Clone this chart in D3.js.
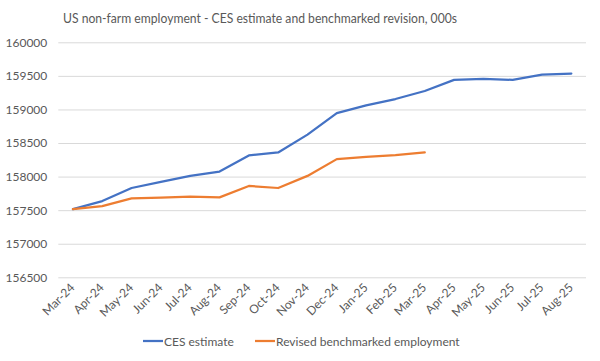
<!DOCTYPE html>
<html><head><meta charset="utf-8">
<script src="https://cdn.jsdelivr.net/npm/d3@7"></script>
<style>body{margin:0;background:#fff;} svg{display:block;font-family:Lato,"Open Sans",sans-serif;}</style>
</head><body>
<svg id="c" width="600" height="361"></svg>
<script>
const months = ["Mar-24","Apr-24","May-24","Jun-24","Jul-24","Aug-24","Sep-24","Oct-24","Nov-24","Dec-24","Jan-25","Feb-25","Mar-25","Apr-25","May-25","Jun-25","Jul-25","Aug-25"];
const cesEstimate = [157515,157635,157830,157920,158010,158075,158315,158360,158625,158945,159060,159155,159275,159440,159455,159440,159520,159535];
const revisedBenchmark = [157515,157560,157675,157685,157700,157690,157860,157830,158010,158260,158295,158320,158360];
const yTicks = [156500,157000,157500,158000,158500,159000,159500,160000];
const seriesNames = ["CES estimate","Revised benchmarked employment"];
const colors = ["#4472C4","#ED7D31"];

const svg = d3.select("#c");
const x = d3.scalePoint().domain(months).range([58.3,586]).padding(0.5);
const y = d3.scaleLinear().domain([156500,160000]).range([277.3,42.3]);

svg.append("text").attr("x",260).attr("y",23).attr("text-anchor","middle")
  .attr("font-size",13.2).attr("fill","#595959")
  .attr("textLength",394).attr("lengthAdjust","spacingAndGlyphs")
  .text("US non-farm employment - CES estimate and benchmarked revision, 000s");

const yAxis = d3.axisLeft(y).tickValues(yTicks).tickSize(-(586-58.3)).tickPadding(11).tickFormat(d3.format("d"));
const gy = svg.append("g").attr("transform","translate(58.3,0)").call(yAxis);
gy.select(".domain").remove();
gy.selectAll(".tick line").attr("stroke","#d9d9d9").attr("stroke-width",1);
gy.selectAll(".tick text").attr("fill","#595959").attr("font-size",12).attr("font-family","Lato,'Open Sans',sans-serif");

const xAxis = d3.axisBottom(x).tickSize(0).tickPadding(0);
const gx = svg.append("g").attr("transform","translate(0,277.3)").call(xAxis);
gx.select(".domain").remove();
gx.selectAll(".tick text").attr("fill","#595959").attr("font-size",12)
  .attr("font-family","Lato,'Open Sans',sans-serif")
  .attr("text-anchor","end").attr("dy",0)
  .attr("transform","translate(2,11) rotate(-45)");

const line = d3.line().x((d,i)=>x(months[i])).y(d=>y(d));
[cesEstimate, revisedBenchmark].forEach((s,k)=>{
  svg.append("path").datum(s).attr("d",line).attr("fill","none")
    .attr("stroke",colors[k]).attr("stroke-width",2.25).attr("stroke-linejoin","round").attr("stroke-linecap","round");
});

const legendX = [143,255];
seriesNames.forEach((n,k)=>{
  const g = svg.append("g").attr("transform",`translate(${legendX[k]},341)`);
  g.append("line").attr("x1",0).attr("x2",20).attr("y1",0).attr("y2",0).attr("stroke",colors[k]).attr("stroke-width",2.25);
  g.append("text").attr("x",21).attr("y",4.5).attr("font-size",12).attr("fill","#595959").text(n);
});
</script>
</body></html>
